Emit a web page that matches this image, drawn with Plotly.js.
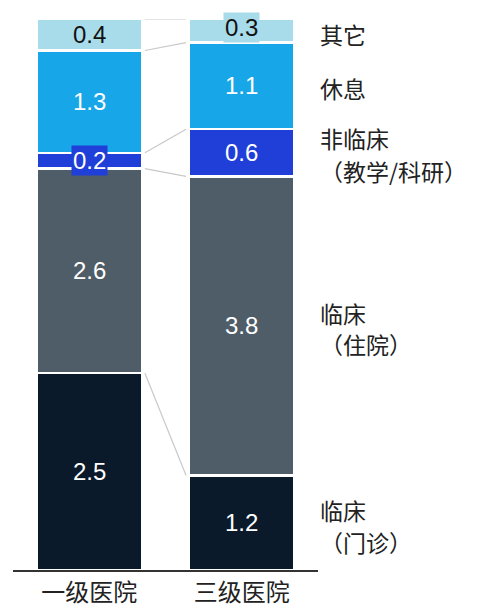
<!DOCTYPE html>
<html><head><meta charset="utf-8">
<script src="https://cdn.plot.ly/plotly-3.0.1.min.js"></script>
<style>html,body{margin:0;padding:0;background:#fff}#chart{width:482px;height:608px}</style>
</head><body><div id="chart"></div>
<script>
const categories = ["一级医院", "三级医院"];
const segmentNames = ["临床（门诊）", "临床（住院）", "非临床（教学/科研）", "休息", "其它"];
const outpatient = [2.5, 1.2];
const inpatient = [2.6, 3.8];
const nonClinical = [0.2, 0.6];
const rest = [1.3, 1.1];
const other = [0.4, 0.3];
const sideLabels = [["临床", "（门诊）"], ["临床", "（住院）"], ["非临床", "（教学/科研）"], ["休息"], ["其它"]];

const series = [outpatient, inpatient, nonClinical, rest, other];
const colors = ["#0b1a2b", "#4f5d69", "#1f3fd8", "#17a6e8", "#a9dcea"];
const textColors = ["#ffffff", "#ffffff", "#ffffff", "#ffffff", "#111111"];
const labelBg = [null, null, "#1f3fd8", null, "#a9dcea"];
const sideShifts = [[13, -19], [13, -18], [15, -18], [-2], [-3]];
const barWidth = 0.69;
const cjk = '"Noto Sans CJK SC", "Noto Sans", sans-serif';
const latin = '"Liberation Sans", Arial, sans-serif';

const traces = series.map((vals, i) => ({
  type: "bar", name: segmentNames[i], x: [0, 1], y: vals, width: barWidth,
  marker: {color: colors[i], line: {color: "#ffffff", width: 2.5}},
  hoverinfo: "skip", showlegend: false
}));

const annotations = [];
const shapes = [];
const cum = [[0], [0]];
series.forEach(vals => { for (let b = 0; b < 2; b++) cum[b].push(cum[b][cum[b].length - 1] + vals[b]); });

series.forEach((vals, i) => {
  for (let b = 0; b < 2; b++) {
    const mid = cum[b][i] + vals[b] / 2;
    const ann = {x: b, y: mid, xref: "x", yref: "y", text: vals[b].toFixed(1), showarrow: false,
      font: {family: latin, size: 24, color: textColors[i]}};
    if ((i === 2 && b === 0) || (i === 4 && b === 1)) { ann.bgcolor = labelBg[i]; ann.borderpad = 1; }
    if (i === 4 && b === 1) ann.yshift = 3;
    annotations.push(ann);
  }
  const mid2 = cum[1][i] + vals[1] / 2;
  sideLabels[i].forEach((t, k) => annotations.push({
    x: 1.5, y: mid2, xref: "x", yref: "y", xanchor: "left", text: t, showarrow: false,
    xshift: 0, yshift: sideShifts[i][k],
    font: {family: cjk, size: 23, color: "#222222"}
  }));
});

for (let k = 1; k <= series.length; k++) {
  shapes.push({type: "line", xref: "x", yref: "y", x0: barWidth / 2 + 0.02, x1: 1 - barWidth / 2 - 0.02,
    y0: cum[0][k], y1: cum[1][k], line: {color: "#c9c9c9", width: 1.2}, layer: "below"});
}

const layout = {
  width: 482, height: 608, barmode: "stack",
  margin: {l: 13, r: 164, t: 19, b: 38},
  paper_bgcolor: "#ffffff", plot_bgcolor: "#ffffff",
  xaxis: {range: [-0.5, 1.5], tickmode: "array", tickvals: [0, 1], ticktext: categories,
    showline: true, linecolor: "#333333", linewidth: 2, showgrid: false, zeroline: false, ticks: "",
    ticklabelstandoff: 0,
    tickfont: {family: cjk, size: 24, color: "#222222"}, fixedrange: true},
  yaxis: {range: [0, 7.0], visible: false, showgrid: false, zeroline: false, fixedrange: true},
  annotations: annotations, shapes: shapes
};
Plotly.newPlot("chart", traces, layout, {displayModeBar: false, staticPlot: true});
</script></body></html>
